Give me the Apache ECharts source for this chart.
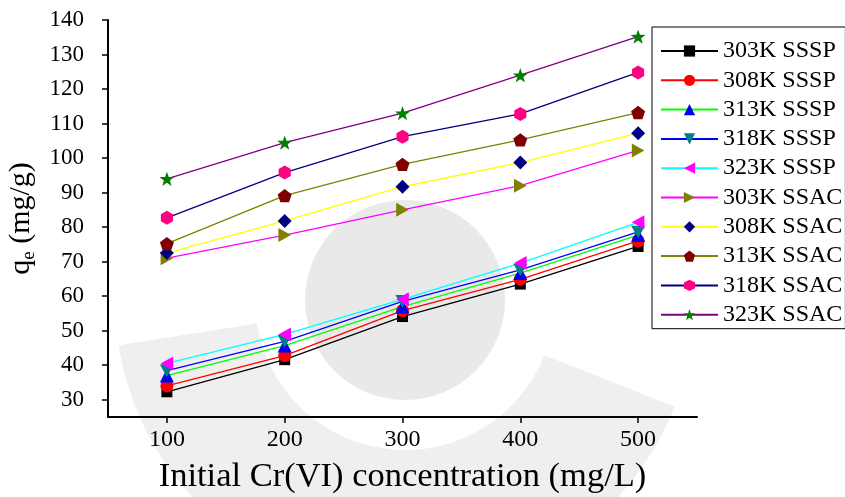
<!DOCTYPE html>
<html>
<head>
<meta charset="utf-8">
<script src="https://cdn.jsdelivr.net/npm/echarts@6/dist/echarts.min.js"></script>
<style>
  html, body { margin: 0; padding: 0; background: #fff; }
  #chart { width: 845px; height: 497px; }
</style>
</head>
<body>
<div id="chart"></div>
<script>
// Initial Cr(VI) concentration (mg/L)
var concentrations = [100, 200, 300, 400, 500];

// Adsorption capacity q_e (mg/g) for SSSP at each temperature
var sssp303 = [32.3, 41.6, 54.1, 63.5, 74.4];
var sssp308 = [34.0, 42.8, 55.8, 64.9, 76.0];
var sssp313 = [37.0, 45.7, 57.0, 66.7, 77.7];
var sssp318 = [38.4, 46.9, 58.5, 67.6, 78.6];
var sssp323 = [40.5, 48.9, 59.1, 69.6, 81.4];

// Adsorption capacity q_e (mg/g) for SSAC at each temperature
var ssac303 = [71.0, 77.7, 85.0, 92.0, 102.2];
var ssac308 = [72.5, 81.8, 91.7, 98.7, 107.2];
var ssac313 = [75.2, 89.1, 98.2, 105.3, 113.2];
var ssac318 = [82.7, 95.8, 106.2, 112.8, 124.8];
var ssac323 = [94.0, 104.5, 113.0, 124.0, 135.2];

var seriesNames = ['303K SSSP', '308K SSSP', '313K SSSP', '318K SSSP', '323K SSSP',
                   '303K SSAC', '308K SSAC', '313K SSAC', '318K SSAC', '323K SSAC'];

var xTicks = [100, 200, 300, 400, 500];
var yTicks = [30, 40, 50, 60, 70, 80, 90, 100, 110, 120, 130, 140];

var FONT = '"Liberation Serif", "Times New Roman", serif';

// marker shapes
var SYM = {
  square: 'rect',
  circle: 'circle',
  up: 'triangle',
  down: 'path://M0,0L10,0L5,9z',
  left: 'path://M9,0L9,10L0,5z',
  right: 'path://M0,0L0,10L9,5z',
  diamond: 'diamond',
  pentagon: 'path://M5,0L10,3.8L8.1,9.5L1.9,9.5L0,3.8z',
  hexagon: 'path://M5,0L9.33,2.5L9.33,7.5L5,10L0.67,7.5L0.67,2.5z',
  star: 'path://M5,0L6.18,3.38L9.76,3.45L6.9,5.62L7.94,9.05L5,7L2.06,9.05L3.1,5.62L0.24,3.45L3.82,3.38z'
};

var styles = [
  { data: sssp303, line: '#000000', mark: '#000000', sym: SYM.square, size: 11 },
  { data: sssp308, line: '#ff0000', mark: '#ff0000', sym: SYM.circle, size: 13 },
  { data: sssp313, line: '#00ff00', mark: '#0000ff', sym: SYM.up, size: 14 },
  { data: sssp318, line: '#0000ff', mark: '#008080', sym: SYM.down, size: 14 },
  { data: sssp323, line: '#00ffff', mark: '#ff00ff', sym: SYM.left, size: 14 },
  { data: ssac303, line: '#ff00ff', mark: '#808000', sym: SYM.right, size: 14 },
  { data: ssac308, line: '#ffff00', mark: '#000080', sym: SYM.diamond, size: 14 },
  { data: ssac313, line: '#808000', mark: '#800000', sym: SYM.pentagon, size: 14 },
  { data: ssac318, line: '#000080', mark: '#ff0080', sym: SYM.hexagon, size: 14 },
  { data: ssac323, line: '#800080', mark: '#008000', sym: SYM.star, size: 15 }
];

function pairs(values) {
  return concentrations.map(function (c, i) { return [c, values[i]]; });
}

var series = styles.map(function (s, i) {
  return {
    name: seriesNames[i],
    type: 'line',
    data: pairs(s.data),
    symbol: s.sym,
    symbolSize: s.size,
    symbolKeepAspect: true,
    showAllSymbol: true,
    lineStyle: { color: s.line, width: 1.3 },
    itemStyle: { color: s.mark, borderWidth: 0 },
    emphasis: { disabled: true },
    animation: false
  };
});

// faint emblem printed behind the figure
var emblem = [
  { type: 'sector', silent: true, z: -10,
    shape: { cx: 405, cy: 300, r0: 150, r: 290, startAngle: Math.PI * 0.12, endAngle: Math.PI * 0.95 },
    style: { fill: '#efefef' } },
  { type: 'circle', silent: true, z: -10,
    shape: { cx: 405, cy: 300, r: 100 },
    style: { fill: '#e9e9e9' } }
];

var chart = echarts.init(document.getElementById('chart'), null, { renderer: 'canvas' });
chart.setOption({
  backgroundColor: '#ffffff',
  animation: false,
  graphic: emblem,
  grid: { left: 108, right: 148, top: 20, bottom: 80, outerBoundsMode: 'none', containLabel: false },
  legend: {
    orient: 'vertical',
    left: 652,
    top: 27,
    data: seriesNames,
    itemWidth: 57,
    itemHeight: 14,
    itemGap: 5.3,
    padding: [12, 3, 2, 8],
    borderColor: '#000',
    borderWidth: 1,
    backgroundColor: '#fff',
    textStyle: { fontFamily: FONT, fontSize: 24, color: '#000', lineHeight: 24 }
  },
  xAxis: {
    type: 'value',
    min: 50,
    max: 550,
    name: 'Initial Cr(VI) concentration (mg/L)',
    nameLocation: 'middle',
    nameGap: 42,
    nameTextStyle: { fontFamily: FONT, fontSize: 34.5, color: '#000' },
    axisLine: { show: true, onZero: false, lineStyle: { color: '#000', width: 2 } },
    axisTick: { show: true, inside: false, length: 6, customValues: xTicks, lineStyle: { color: '#000', width: 1.5 } },
    axisLabel: { customValues: xTicks, fontFamily: FONT, fontSize: 24, color: '#000', margin: 11 },
    splitLine: { show: false }
  },
  yAxis: {
    type: 'value',
    min: 25,
    max: 140,
    name: '{q|q}{e|e}{q| (mg/g)}',
    nameLocation: 'middle',
    nameRotate: 90,
    nameGap: 66,
    nameTextStyle: {
      fontFamily: FONT, color: '#000',
      rich: {
        q: { fontFamily: FONT, fontSize: 30, color: '#000', lineHeight: 34 },
        e: { fontFamily: FONT, fontSize: 19, color: '#000', verticalAlign: 'bottom', lineHeight: 24 }
      }
    },
    axisLine: { show: true, onZero: false, lineStyle: { color: '#000', width: 2 } },
    axisTick: { show: true, inside: false, length: 6, customValues: yTicks, lineStyle: { color: '#000', width: 1.5 } },
    axisLabel: { customValues: yTicks, fontFamily: FONT, fontSize: 23, color: '#000', margin: 24 },
    splitLine: { show: false }
  },
  series: series
});
</script>
</body>
</html>
